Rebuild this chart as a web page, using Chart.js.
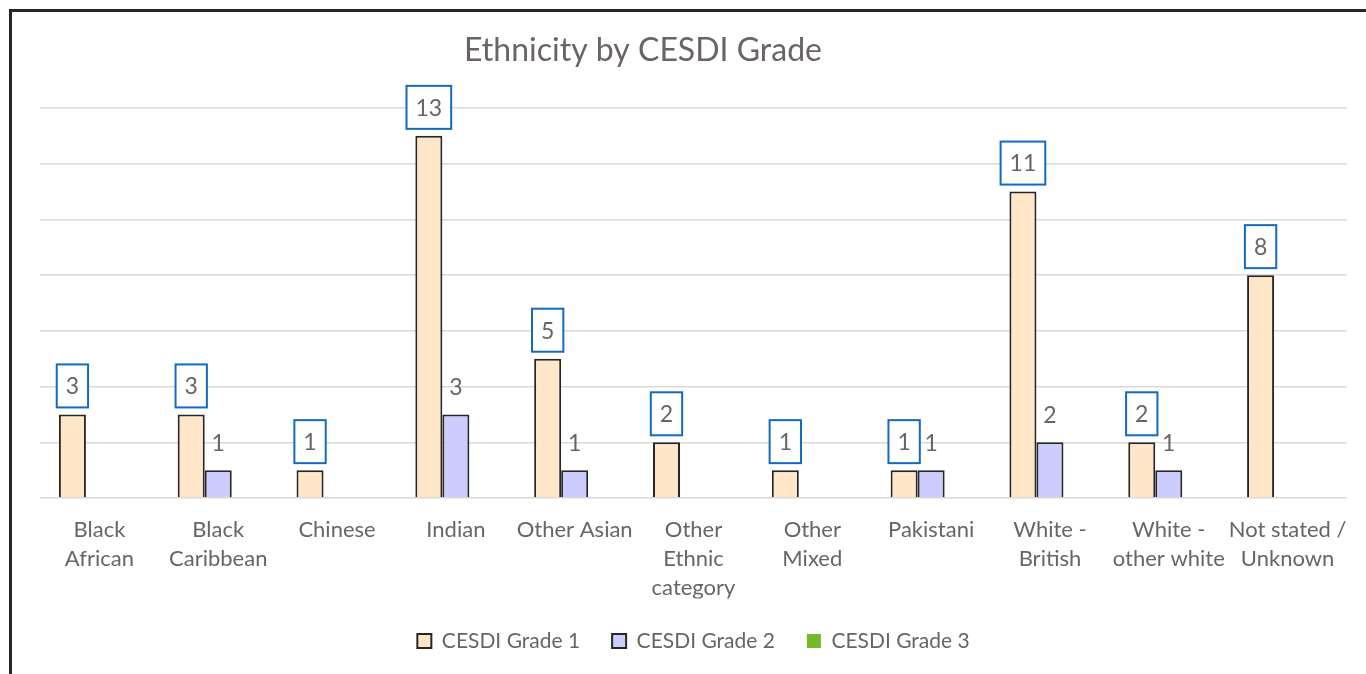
<!DOCTYPE html>
<html>
<head>
<meta charset="utf-8">
<script src="https://cdn.jsdelivr.net/npm/chart.js@4/dist/chart.umd.min.js"></script>
<style>
  html, body { margin: 0; padding: 0; background: #fff; overflow: hidden; }
  #frame {
    position: absolute; left: 9px; top: 9px;
    border-left: 3px solid #262626; border-top: 3px solid #262626;
    width: 1354px; height: 662px;
  }
  #frame canvas { display: block; }
</style>
</head>
<body>
<div id="frame"><canvas id="ethnicity-chart" width="1354" height="662"></canvas></div>
<script>
const categories = [
  ["Black", "African"],
  ["Black", "Caribbean"],
  "Chinese",
  "Indian",
  "Other Asian",
  ["Other", "Ethnic", "category"],
  ["Other", "Mixed"],
  "Pakistani",
  ["White -", "British"],
  ["White -", "other white"],
  ["Not stated /", "Unknown"]
];
const grade1 = [3, 3, 1, 13, 5, 2, 1, 1, 11, 2, 8];
const grade2 = [null, 1, null, 3, 1, null, null, 1, 2, 1, null];
const grade3 = [null, null, null, null, null, null, null, null, null, null, null];

const textColor = "#6a6464";
const fontFamily = "Lato, 'Open Sans', sans-serif";

// chart title sits left of centre, so it is drawn by hand
const titlePlugin = {
  id: "sideTitle",
  afterDraw(chart, args, opts) {
    const ctx = chart.ctx;
    ctx.save();
    ctx.font = opts.size + "px " + fontFamily;
    ctx.fillStyle = textColor;
    ctx.textAlign = "center";
    ctx.textBaseline = "middle";
    ctx.fillText(opts.text, opts.x, opts.y);
    ctx.restore();
  }
};

// value labels: boxed for grade 1, plain for the others
const valueLabels = {
  id: "valueLabels",
  afterDatasetsDraw(chart) {
    const ctx = chart.ctx;
    ctx.save();
    ctx.font = "23px " + fontFamily;
    ctx.textAlign = "center";
    ctx.textBaseline = "middle";
    chart.data.datasets.forEach((ds, di) => {
      const meta = chart.getDatasetMeta(di);
      meta.data.forEach((bar, i) => {
        const v = ds.data[i];
        if (v == null) return;
        const txt = String(v);
        if (di === 0) {
          const w = ctx.measureText(txt).width + 18;
          const h = 43;
          const top = bar.y - 7 - h;
          ctx.fillStyle = "#fff";
          ctx.fillRect(bar.x - w / 2, top, w, h);
          ctx.strokeStyle = "#1469c2";
          ctx.lineWidth = 2;
          ctx.strokeRect(bar.x - w / 2, top, w, h);
          ctx.fillStyle = textColor;
          ctx.fillText(txt, bar.x, top + h / 2 + 1);
        } else {
          ctx.fillStyle = textColor;
          ctx.fillText(txt, bar.x, bar.y - 27);
        }
      });
    });
    ctx.restore();
  }
};

new Chart(document.getElementById("ethnicity-chart").getContext("2d"), {
  type: "bar",
  data: {
    labels: categories,
    datasets: [
      {
        label: "CESDI Grade 1",
        data: grade1,
        backgroundColor: "#ffe6c8",
        borderColor: "#262626",
        borderWidth: 2
      },
      {
        label: "CESDI Grade 2",
        data: grade2,
        backgroundColor: "#ccccff",
        borderColor: "#262626",
        borderWidth: 2
      },
      {
        label: "CESDI Grade 3",
        data: grade3,
        backgroundColor: "#76b82a",
        borderColor: "#76b82a",
        borderWidth: 0
      }
    ]
  },
  options: {
    responsive: false,
    animation: false,
    layout: { padding: { top: 96, left: 28, right: 19, bottom: 12.5 } },
    datasets: {
      bar: { barPercentage: 1, categoryPercentage: 0.682 }
    },
    scales: {
      x: {
        grid: { display: false, drawTicks: false },
        border: { display: false },
        ticks: {
          color: textColor,
          padding: 17,
          maxRotation: 0,
          autoSkip: false,
          font: { family: fontFamily, size: 22, lineHeight: 1.32 }
        },
        afterFit(scale) { scale.height = 100.5; }
      },
      y: {
        min: 0,
        max: 14,
        ticks: { display: false, stepSize: 2 },
        border: { display: false },
        grid: { color: "#dcd8d8", lineWidth: 1.5, drawTicks: false },
        afterFit(scale) { scale.width = 0; }
      }
    },
    plugins: {
      legend: {
        position: "bottom",
        labels: {
          color: textColor,
          boxWidth: 14,
          boxHeight: 14,
          padding: 32,
          font: { family: fontFamily, size: 21 }
        }
      },
      tooltip: { enabled: false },
      sideTitle: { text: "Ethnicity by CESDI Grade", x: 631, y: 39, size: 32 }
    }
  },
  plugins: [titlePlugin, valueLabels]
});
</script>
</body>
</html>
